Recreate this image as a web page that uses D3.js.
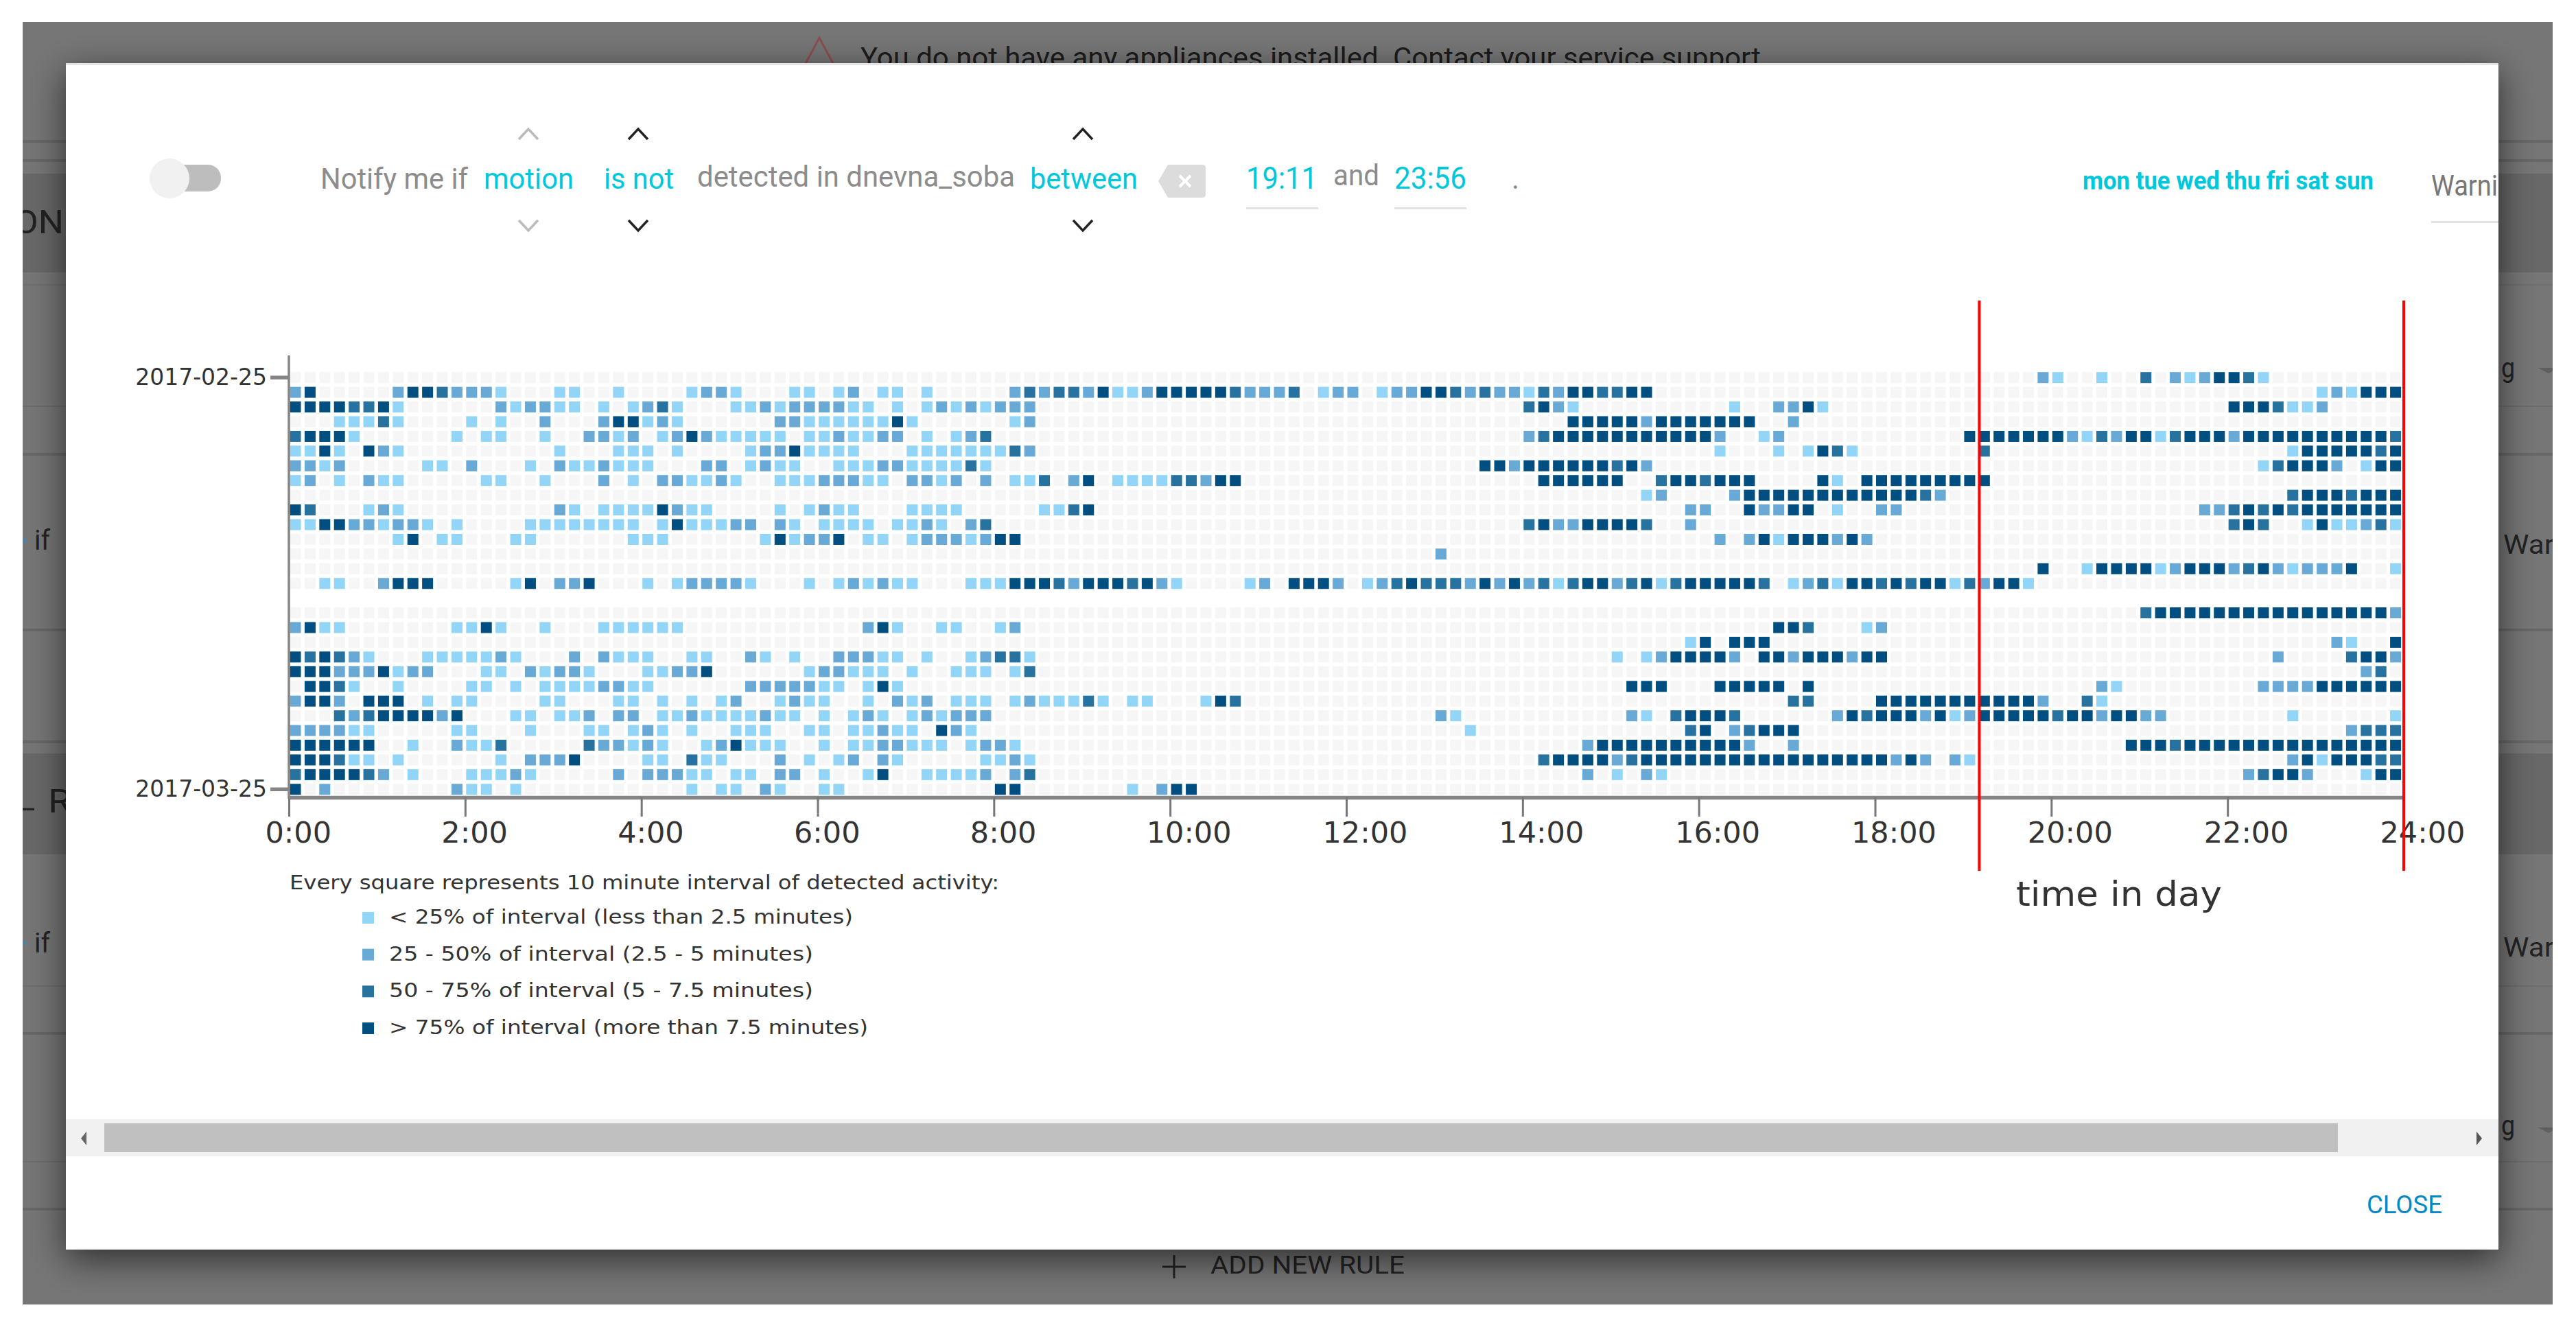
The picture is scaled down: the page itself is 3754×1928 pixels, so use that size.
<!DOCTYPE html>
<html>
<head>
<meta charset="utf-8">
<script src="https://cdnjs.cloudflare.com/ajax/libs/d3/7.8.5/d3.min.js"></script>
<style>
  html, body { margin: 0; background: #fff; }
  svg { display: block; }
</style>
</head>
<body>
<div id="chart"></div>
<script>
// one string per day, "startColumn:levels" runs, 144 columns of 10 minutes, level 1-4
// the 16th day has no record at all (null), not even the empty squares
const dayActivity = [
  "119:21 123:1 126:3 128:2124431",
  "0:24 7:24432221 18:11 22:1 27:1221 34:11 37:12 40:11 43:1 49:23233241124444432223 70:122 74:1224432322132443344 138:121444",
  "0:44443341 14:212211 21:1 23:1231 30:1121222211 41:1 43:12121222 84:3421 98:1 101:2241 132:4443112",
  "3:11131 12:1 14:1 17:2 21:244121 33:2211111141 49:12 87:4444424444444 102:2",
  "0:34441 11:1 13:11 17:1 20:2212 25:124211111 35:1121122 43:1 45:123 84:23444444444442 100:12 114:444444421324413444244444444443",
  "0:1141 5:421 18:1 22:111 26:1 31:12241111 42:111111132 97:1 101:1 103:1431 115:3 136:14444434",
  "0:2212 9:11 12:2 16:1 18:2112111 28:22 31:1211 37:11122111131 81:442444444342 134:134442 141:144",
  "0:12 3:1 5:211 13:11 17:1 21:2 23:1 25:221121 33:11122211 42:2212 47:2 49:113 53:24 56:111133244 85:444444 93:3443444 104:41 107:444444444",
  "92:12 98:244444444444432 136:34443444",
  "0:43 5:121 18:21 21:11114211 33:1 35:1211 42:1111 51:1134 95:22 99:42244 105:1 108:22 130:22343434444444",
  "0:1144221221 11:1 16:11111111 25:1411122 33:21 36:1111 41:1121 46:23 84:342244443 95:2 132:343 137:1411231",
  "7:14 10:11 15:11 23:111 32:141224 39:11 42:12221244 97:2 99:241444242",
  "78:2",
  "119:4 122:1444412444234212224 143:1",
  "2:11 6:2444 15:14 18:224 24:1 26:122221 35:1 37:121211 46:111444324443421 65:12 68:4442 73:1234333242423134423413444443 102:12314434344132441",
  null,
  "126:344444444444444442",
  "0:2411 11:1141 17:1 21:111111 39:241 44:11 48:12 101:443 107:12",
  "95:14 98:444 139:21 143:4",
  "0:434321 9:1111121 19:2 21:2111 27:11 31:21 34:1 37:22211 43:1 46:12331 90:1 92:1244442 100:442444244 135:2 140:3442",
  "0:4442224122 13:11 16:21221 24:11224 35:122111 42:1 45:111 49:13 141:23",
  "1:4431 7:1 12:11 15:1 17:11112211 31:22222 36:11 39:141 91:444 97:44444 103:4 123:21 134:2222444444",
  "0:2442 5:444 9:1 11:11 17:11 22:11 25:1 27:1 29:12 33:1211 39:1 41:212 45:111 49:1211131 57:11 62:143 102:33 108:444444444442 122:31",
  "3:323444424 15:11 18:112 22:22 25:1121111211 36:1 38:121 42:121222 78:21 91:21 94:34443 105:24344424124444434424422 136:1 143:1",
  "0:222211 11:11 16:1 20:11 23:121 27:1 30:111 35:11 38:11211 44:421 80:1 95:34 98:23444 140:2333",
  "0:444444 8:1 11:2113 20:322121 28:124111 36:1 38:1122111 46:1221 88:2 89:44444444442 102:2 125:4443444444444444444",
  "0:444311 7:1 14:1 16:2224 24:11 27:311 33:2 35:1 37:12 40:21 47:1121 85:344442344444444444444444242 113:21 136:241 139:44433",
  "0:3444432 8:1 12:11121 22:2 24:22211 30:11 33:22 36:1 39:14 43:11112 49:23 88:2 90:1 92:21 133:23442 141:144",
  "0:4 2:2 11:211 15:1 27:1 29:11 32:21 36:11 48:44 57:1 59:244"
];

const hourTicks = [0, 2, 4, 6, 8, 10, 12, 14, 16, 18, 20, 22, 24];
const ruleHours = [19 + 11 / 60, 24];
const levelColors = ["#f6f6f6", "#92d5f6", "#69a9d6", "#27729f", "#004f80"];
const legendLabels = [
  "< 25% of interval (less than 2.5 minutes)",
  "25 - 50% of interval (2.5 - 5 minutes)",
  "50 - 75% of interval (5 - 7.5 minutes)",
  "> 75% of interval (more than 7.5 minutes)"
];
const legendWidths = [676, 618, 618, 698];

const width = 3754;
const height = 1928;
const columns = d3.range(144);
const fmtDay = d3.utcFormat("%Y-%m-%d");
const days = d3.utcDays(Date.UTC(2017, 1, 25), Date.UTC(2017, 2, 26)).map(fmtDay);

const x = d3.scaleLinear().domain([0, 24]).range([421, 3503]);
const y = d3.scaleBand().domain(days).range([539.5, 1161]);

const svg = d3.select("#chart").append("svg")
  .attr("width", width)
  .attr("height", height)
  .style("font-family", "'DejaVu Sans', sans-serif");

const defs = svg.append("defs");
defs.append("filter").attr("id", "modalShadow")
  .attr("x", "-5%").attr("y", "-5%").attr("width", "110%").attr("height", "115%")
  .append("feDropShadow")
  .attr("dx", 0).attr("dy", 14).attr("stdDeviation", 26)
  .attr("flood-color", "#000").attr("flood-opacity", 0.62);
defs.append("clipPath").attr("id", "modalClip")
  .append("rect").attr("x", 96).attr("y", 92).attr("width", 3545).attr("height", 1729);
defs.append("clipPath").attr("id", "pageClip")
  .append("rect").attr("x", 33).attr("y", 32).attr("width", 3687).attr("height", 1869);

// text squeezed to the width it has in the screenshot
function label(parent, text, px, py, size, fill, w, weight) {
  const t = parent.append("text")
    .attr("x", px).attr("y", py)
    .attr("font-size", size)
    .attr("fill", fill)
    .text(text);
  if (w) t.attr("textLength", w).attr("lengthAdjust", "spacingAndGlyphs");
  if (weight) t.attr("font-weight", weight);
  return t;
}

// dimmed page behind the dialog
const page = svg.append("g").attr("clip-path", "url(#pageClip)").style("font-family", "Roboto, sans-serif");
page.append("rect").attr("x", 33).attr("y", 32).attr("width", 3687).attr("height", 1869).attr("fill", "#767676");
page.append("rect").attr("x", 33).attr("y", 253).attr("width", 3687).attr("height", 144).attr("fill", "#686868");
page.append("rect").attr("x", 33).attr("y", 1098).attr("width", 3687).attr("height", 147).attr("fill", "#686868");
[204, 232, 660, 916, 1079, 1504, 1760].forEach(ly => {
  page.append("rect").attr("x", 33).attr("y", ly).attr("width", 3687).attr("height", 4).attr("fill", "#676767");
});
[414, 591, 1436, 1692].forEach(ly => {
  page.append("rect").attr("x", 33).attr("y", ly).attr("width", 3687).attr("height", 2).attr("fill", "#6d6d6d");
});
page.append("path").attr("d", "M1194,55 L1170,100 L1218,100 Z").attr("fill", "none").attr("stroke", "#8a4f4f").attr("stroke-width", 3);
label(page, "You do not have any appliances installed. Contact your service support", 1254, 98, 40, "#1c1c1c", 1312);
label(page, "ON", 20, 340, 48, "#222", 73);
label(page, "if", 50, 801, 40, "#222", 23);
label(page, "if", 50, 1388, 40, "#222", 23);
label(page, "_", 24, 1178, 44, "#222", 26);
label(page, "R", 70, 1184, 48, "#222", 34);
[787, 1374].forEach(dy => {
  page.append("rect").attr("x", 33).attr("y", dy - 2).attr("width", 4).attr("height", 5).attr("fill", "#3d86b5");
});
label(page, "g", 3645, 550, 40, "#222", 20);
label(page, "g", 3645, 1654, 40, "#222", 20);
[536, 1643].forEach(ay => {
  page.append("path").attr("d", `M3698,${ay} H3730 L3714,${ay + 8} Z`).attr("fill", "#5f5f5f");
});
label(page, "War", 3648, 807, 38, "#222", 74);
label(page, "War", 3648, 1394, 38, "#222", 74);
label(page, "ADD NEW RULE", 1764, 1856, 36, "#222", 283);
page.append("path").attr("d", "M1694,1846 H1728 M1711,1829 V1863").attr("stroke", "#222").attr("stroke-width", 3);

// dialog
svg.append("rect").attr("x", 96).attr("y", 92).attr("width", 3545).attr("height", 1729)
  .attr("fill", "#fff").attr("filter", "url(#modalShadow)");
svg.append("rect").attr("x", 96).attr("y", 92).attr("width", 3545).attr("height", 3).attr("fill", "#e4e4e4");

const modal = svg.append("g").attr("clip-path", "url(#modalClip)").style("font-family", "Roboto, sans-serif");
const cyan = "#00c8dc";
const grey = "#8c8c8c";

// rule sentence above the chart
modal.append("rect").attr("x", 247).attr("y", 240).attr("width", 75).attr("height", 39).attr("rx", 19).attr("fill", "#bdbdbd");
modal.append("circle").attr("cx", 247).attr("cy", 260).attr("r", 29).attr("fill", "#f1f1f1");
label(modal, "Notify me if", 467, 275, 42, grey, 215);
label(modal, "motion", 705, 275, 42, cyan, 131);
label(modal, "is not", 880, 275, 42, cyan, 102);
label(modal, "detected in dnevna_soba", 1016, 272, 42, grey, 463);
label(modal, "between", 1501, 275, 42, cyan, 157);
label(modal, "19:11", 1816, 275, 44, cyan, 104);
label(modal, "and", 1943, 270, 42, grey, 67);
label(modal, "23:56", 2032, 275, 44, cyan, 105);
label(modal, ".", 2203, 275, 42, grey);
label(modal, "mon tue wed thu fri sat sun", 3035, 276, 36, cyan, 424, 700);
label(modal, "Warni", 3543, 285, 42, "#777", 97);

[[1816, 105], [2032, 105], [3543, 100]].forEach(([ux, uw]) => {
  modal.append("rect").attr("x", ux).attr("y", ux > 3000 ? 322 : 302).attr("width", uw).attr("height", 3).attr("fill", "#e2e2e2");
});
modal.append("path").attr("d", "M1702,240 H1752 Q1757,240 1757,245 V283 Q1757,288 1752,288 H1702 L1688,264 Z").attr("fill", "#dcdcdc");
modal.append("path").attr("d", "M1719,256 L1735,272 M1735,256 L1719,272").attr("stroke", "#fff").attr("stroke-width", 4);

[[770, "#bbb"], [930, "#222"], [1578, "#222"]].forEach(([cx, stroke]) => {
  modal.append("path").attr("d", `M${cx - 14},203 L${cx},188 L${cx + 14},203`)
    .attr("fill", "none").attr("stroke", stroke).attr("stroke-width", 3.5);
  modal.append("path").attr("d", `M${cx - 14},321 L${cx},336 L${cx + 14},321`)
    .attr("fill", "none").attr("stroke", stroke).attr("stroke-width", 3.5);
});

// heatmap
const chart = svg.append("g");
const cellSize = 16;
const cellInset = (y.bandwidth() - cellSize) / 2;

function parseDay(runs) {
  const levels = new Array(columns.length).fill(0);
  runs.split(" ").forEach(run => {
    const [start, digits] = run.split(":");
    digits.split("").forEach((digit, i) => { levels[+start + i] = +digit; });
  });
  return levels;
}

const dayRows = days
  .map((day, i) => ({ day, runs: dayActivity[i] }))
  .filter(d => d.runs !== null)
  .map(d => ({ day: d.day, levels: parseDay(d.runs) }));

chart.selectAll("g.day")
  .data(dayRows)
  .join("g")
  .attr("class", "day")
  .attr("transform", d => `translate(0, ${y(d.day)})`)
  .selectAll("rect")
  .data(d => d.levels)
  .join("rect")
  .attr("x", (d, i) => x(i / 6) + 1.5)
  .attr("y", cellInset)
  .attr("width", cellSize)
  .attr("height", cellSize)
  .attr("fill", d => levelColors[d]);

// axes
const xAxis = chart.append("g")
  .attr("transform", "translate(0, 1162)")
  .call(d3.axisBottom(x)
    .tickValues(hourTicks)
    .tickFormat(h => `${h}:00`)
    .tickSize(28)
    .tickSizeOuter(0));
xAxis.select(".domain").attr("stroke", "#858585").attr("stroke-width", 5.5);
xAxis.selectAll(".tick line").attr("stroke", "#777").attr("stroke-width", 3);
xAxis.selectAll(".tick text")
  .attr("dy", null)
  .attr("y", 66)
  .attr("x", -35)
  .attr("text-anchor", "start")
  .attr("font-size", 43)
  .attr("font-family", "'DejaVu Sans', sans-serif")
  .attr("fill", "#333");

const yAxis = chart.append("g")
  .attr("transform", "translate(421, 0)")
  .call(d3.axisLeft(y)
    .tickValues([days[0], days[days.length - 1]])
    .tickSize(27)
    .tickPadding(5));
yAxis.select(".domain").remove();
yAxis.selectAll(".tick line").attr("stroke", "#858585").attr("stroke-width", 5.5);
yAxis.selectAll(".tick text")
  .attr("font-size", 33)
  .attr("font-family", "'DejaVu Sans', sans-serif")
  .attr("fill", "#333");
chart.append("line")
  .attr("x1", x(0)).attr("x2", x(0))
  .attr("y1", 518).attr("y2", 1164)
  .attr("stroke", "#858585").attr("stroke-width", 3.5);

// legend
const legend = svg.append("g");
label(legend, "Every square represents 10 minute interval of detected activity:", 422, 1296, 29, "#333", 1034);
const legendY = d3.scalePoint().domain(legendLabels).range([1337, 1498]);
legend.selectAll("rect")
  .data(legendLabels)
  .join("rect")
  .attr("x", 528)
  .attr("y", d => legendY(d) - 8)
  .attr("width", 17)
  .attr("height", 17)
  .attr("fill", (d, i) => levelColors[i + 1]);
legendLabels.forEach((text, i) => {
  label(legend, text, 567, legendY(text) + 9, 29, "#333", legendWidths[i]);
});

// red rule window drawn on top of the picture
svg.selectAll("line.rule")
  .data(ruleHours)
  .join("line")
  .attr("class", "rule")
  .attr("x1", d => x(d))
  .attr("x2", d => x(d))
  .attr("y1", 438)
  .attr("y2", 1269)
  .attr("stroke", "#f00")
  .attr("stroke-width", 4);
label(svg, "time in day", 2938, 1320, 50, "#333", 300);

// scrollbar and close button
modal.append("rect").attr("x", 96).attr("y", 1631).attr("width", 3545).attr("height", 54).attr("fill", "#f1f1f1");
modal.append("rect").attr("x", 152).attr("y", 1637).attr("width", 3255).attr("height", 42).attr("fill", "#c0c0c0");
modal.append("path").attr("d", "M126,1649 L118,1659 L126,1669 Z").attr("fill", "#666");
modal.append("path").attr("d", "M3609,1649 L3617,1659 L3609,1669 Z").attr("fill", "#555");
label(modal, "CLOSE", 3449, 1768, 36, "#0288c7", 110);
</script>
</body>
</html>
